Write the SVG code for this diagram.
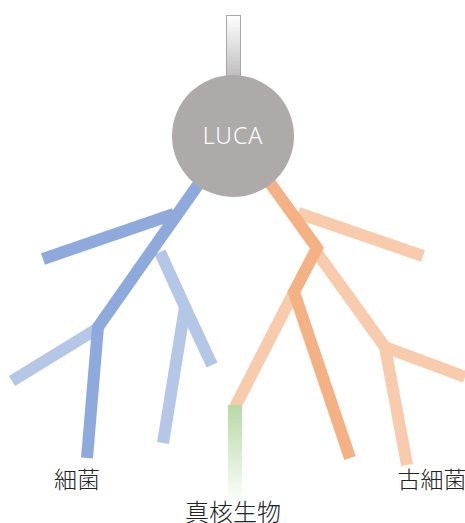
<svg xmlns="http://www.w3.org/2000/svg" width="465" height="523" viewBox="0 0 465 523">
<style>
.b{fill:none;stroke-linecap:butt;stroke-linejoin:miter;stroke-width:12}
.bd{stroke:#8eaadc}.bl{stroke:#b4c7e7}.od{stroke:#f4b183}.ol{stroke:#f8cbad}
.t{font-family:"Noto Sans CJK JP","Liberation Sans",sans-serif;font-weight:300;fill:#222;text-anchor:middle}
</style>
<defs>
<linearGradient id="gTop" x1="0" y1="0" x2="0" y2="1"><stop offset="0" stop-color="#ffffff"/><stop offset="1" stop-color="#bdbdbd"/></linearGradient>
<linearGradient id="gGreen" x1="0" y1="0" x2="0" y2="1"><stop offset="0" stop-color="#b8d9a4"/><stop offset="1" stop-color="#ffffff"/></linearGradient>
</defs>
<g id="connectors">
<polyline class="b bl" points="160,252 185,307 212,365"/>
<polyline class="b bl" points="185,307 163,443"/>
<polyline class="b bl" points="100,327 12,381"/>
<polyline class="b bd" points="174,214 43,259"/>
<polyline class="b bd" points="200,182 98,327 87,458"/>
<polyline class="b ol" points="298,213 423,256"/>
<polyline class="b ol" points="315,250 385,347 465,377"/>
<polyline class="b ol" points="385,347 407,465"/>
<polyline class="b ol" points="294,292 235,407"/>
<polyline class="b od" points="270,183 317,248 294,292 350,458"/>
</g>
<g id="root"><rect x="226.5" y="15.5" width="14" height="62" fill="url(#gTop)" stroke="#a8a8a8"/></g>
<g id="luca">
<circle cx="233" cy="136" r="61" fill="#aeaaa9"/>
<text x="233" y="144" font-family="Noto Sans,Liberation Sans,sans-serif" font-weight="300" font-size="23" fill="#ffffff" text-anchor="middle" letter-spacing="1">LUCA</text>
</g>
<g id="eukaryota"><rect x="228" y="405" width="14" height="100" fill="url(#gGreen)"/><text class="t" x="233" y="521" font-size="24">真核生物</text></g>
<g id="bacteria"><text class="t" x="77" y="488" font-size="23">細菌</text></g>
<g id="archaea"><text class="t" x="432" y="488" font-size="23">古細菌</text></g>
</svg>
